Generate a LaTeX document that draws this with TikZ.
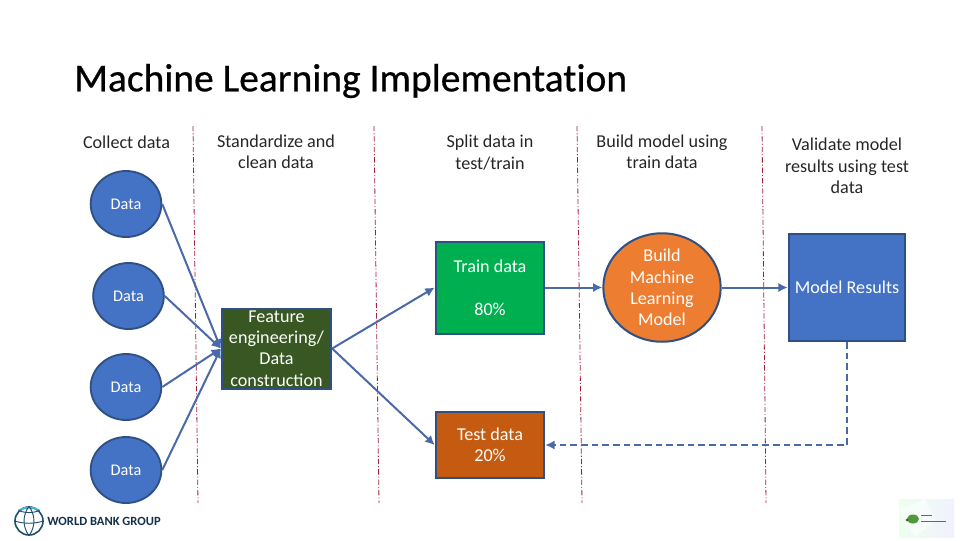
\documentclass[tikz,border=0pt]{standalone}
\usepackage{fontspec}
\setmainfont{Carlito}
\newfontfamily\titlefont[FakeBold=0.6,Ligatures=NoCommon]{Carlito}
\usepackage{xcolor}
\usetikzlibrary{arrows.meta,calc,positioning,shapes.geometric}
\definecolor{BoxBlue}{HTML}{4472C4}
\definecolor{EdgeBlue}{HTML}{2F5083}
\definecolor{LineBlue}{HTML}{4A69A8}
\definecolor{FeatureGreen}{HTML}{385723}
\definecolor{TrainGreen}{HTML}{00B050}
\definecolor{TestOrange}{HTML}{C55A11}
\definecolor{ModelOrange}{HTML}{ED7D31}
\definecolor{SplitRed}{HTML}{A0203C}
\definecolor{GlobeBlue}{HTML}{1F4E6B}
\definecolor{GlobeCyan}{HTML}{3FB4D8}
\definecolor{BankNavy}{HTML}{12304A}
\definecolor{LeafGreen}{HTML}{4E9A3A}
\tikzset{
  shapetext/.style={text=white,font=\fontsize{13.6}{16}\selectfont,align=center,inner sep=0pt},
  datacircle/.style={ellipse,draw=EdgeBlue,fill=BoxBlue,line width=1.4pt,shapetext,font=\fontsize{12.2}{16}\selectfont,minimum width=53pt,minimum height=49.5pt},
  stepbox/.style={rectangle,draw=EdgeBlue,line width=1.5pt,shapetext},
  headtext/.style={font=\fontsize{13.6}{16}\selectfont,align=center,text=black!85,inner sep=0pt},
  splitline/.style={SplitRed,line width=0.6pt,dash pattern=on 4pt off 1.5pt on 0.8pt off 1.5pt},
  flow/.style={-{Latex[length=7pt,width=7pt]},LineBlue,line width=1.5pt}
}
\begin{document}
\begin{tikzpicture}[x=0.75pt,y=-0.75pt]
  \useasboundingbox (0,0) rectangle (960,540);
  \node[anchor=west,inner sep=0pt,font=\titlefont\fontsize{29.6}{32}\selectfont] (title) at (74,81) {Machine Learning Implementation};
  % column heads
  \node[headtext] (head1) at (126.5,142) {Collect data};
  \node[headtext] (head2) at (276,152) {Standardize and\\clean data};
  \node[headtext] (head3) at (490,152.5) {Split data in\\test/train};
  \node[headtext] (head4) at (662,152) {Build model using\\train data};
  \node[headtext] (head5) at (847,166) {Validate model\\results using test\\data};
  % column separators
  \foreach \xa/\xb in {193/198,374/379,577/582,762/766}{
    \draw[splitline] (\xa,126)--(\xb,503);
  }
  % sources
  \node[datacircle] (data1) at (126,204) {Data};
  \node[datacircle] (data2) at (128.5,296) {Data};
  \node[datacircle] (data3) at (126,387) {Data};
  \node[datacircle] (data4) at (126,470) {Data};
  \node[stepbox,fill=FeatureGreen,minimum width=82pt,minimum height=60pt] (feature) at (276.5,348.5) {Feature\\engineering/\\Data\\construction};
  \node[stepbox,fill=TrainGreen,minimum width=81.5pt,minimum height=69pt] (train) at (490,287.5) {Train data\\[16pt]80\%};
  \node[stepbox,fill=TestOrange,minimum width=81.5pt,minimum height=50pt] (test) at (490,445) {Test data\\20\%};
  \node[ellipse,draw=EdgeBlue,fill=ModelOrange,line width=1.5pt,shapetext,minimum width=88pt,minimum height=80pt] (build) at (662,287.5) {Build\\Machine\\Learning\\Model};
  \node[stepbox,fill=BoxBlue,minimum width=87.5pt,minimum height=80pt] (results) at (847,287.5) {Model Results};
  % connectors
  \foreach \n in {data1,data2,data3,data4}{
    \draw[flow] (\n.east)--(feature.west);
  }
  \draw[flow] (feature.east)--(train.west);
  \draw[flow] (feature.east)--(test.west);
  \draw[flow] (train.east)--(build.west);
  \draw[flow] (build.east)--(results.west);
  \draw[flow,dash pattern=on 5pt off 3pt] (results.south)|-(test.east);
  % bank logo
  \node[circle,draw=GlobeBlue,line width=1.2pt,minimum size=21pt,inner sep=0pt] (globe) at (29,521) {};
  \draw[GlobeCyan,line width=1.4pt] (globe.north west) to[bend left=30] (globe.north east);
  \draw[GlobeBlue,line width=0.7pt] (globe.north) to[bend left=35] (globe.south);
  \draw[GlobeBlue,line width=0.7pt] (globe.north) to[bend right=35] (globe.south);
  \draw[GlobeBlue,line width=0.7pt] (globe.west) to[bend right=15] (globe.east);
  \draw[GlobeBlue,line width=0.7pt] (globe.north west) to[bend right=20] (globe.north east);
  \node[anchor=west,inner sep=0pt,text=BankNavy,font=\fontsize{9.4}{10}\selectfont\bfseries] (bank) at (47,521) {WORLD BANK GROUP};
  % small logo
  \shade[left color=green!8!white,right color=blue!6!white,opacity=0.9] (899,499) rectangle (954,537);
  \fill[white,opacity=0.6] (899,510)--(925,499)--(936,520)--(915,537)--cycle;
  \fill[LeafGreen] (913,519) ellipse (6 and 4.5);
  \fill[black!70] (907,520) circle (1.5);
  \draw[black!60,line width=0.7pt] (921,515)--(932,515);
  \draw[black!60,line width=0.7pt] (921,521)--(946,521);
\end{tikzpicture}
\end{document}
